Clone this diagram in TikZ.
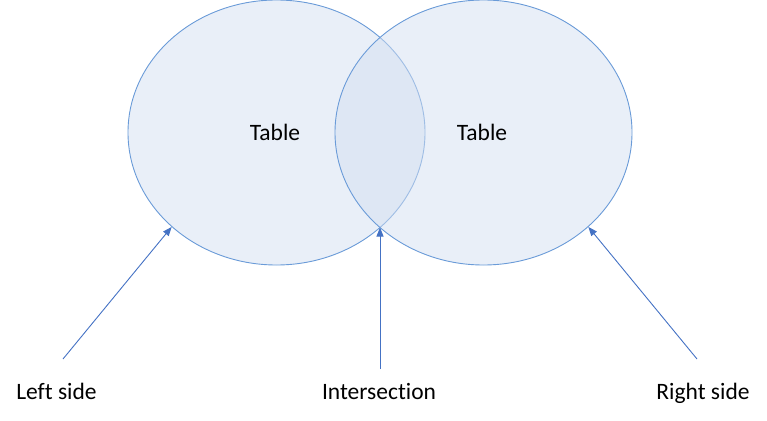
\documentclass[tikz,border=0pt]{standalone}
\usepackage{fontspec}
\setmainfont{Carlito}[Ligatures={NoCommon,NoRare}]
\usetikzlibrary{shapes.geometric,arrows.meta}
\definecolor{vfill}{RGB}{211,223,241}
\definecolor{vline}{RGB}{106,155,216}
\definecolor{arr}{RGB}{68,114,196}
\tikzset{
  setbox/.style={ellipse, draw=vline, line width=0.9pt, fill=vfill, fill opacity=0.5, minimum width=297pt, minimum height=265pt, inner sep=0pt},
  lbl/.style={font=\fontsize{23.5}{28}\selectfont, inner sep=0pt, anchor=base},
  pointer/.style={draw=arr, line width=0.9pt, -{Triangle[length=9pt,width=7pt]}}
}
\begin{document}
\begin{tikzpicture}[x=1pt,y=-1pt]
\useasboundingbox (0,0) rectangle (767,420);
\node[setbox] (L) at (276.5,132.5) {};
\node[setbox] (R) at (483.5,132.5) {};
\node[lbl] (tl) at (275,140) {Table};
\node[lbl] (tr) at (482,140) {Table};
\coordinate (ix) at (380,227.5);
\coordinate (ls) at (63,359);
\coordinate (ms) at (380,369);
\coordinate (rs) at (697,359);
\draw[pointer] (ls) -- (L.222);
\draw[pointer] (ms) -- (ix);
\draw[pointer] (rs) -- (R.318);
\node[lbl] (tleft) at (56.5,399) {Left side};
\node[lbl] (tmid) at (379,399) {Intersection};
\node[lbl] (tright) at (703,399) {Right side};
\end{tikzpicture}
\end{document}
